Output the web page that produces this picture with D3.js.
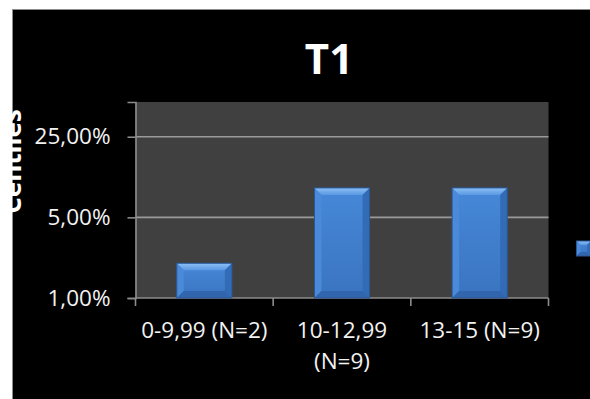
<!DOCTYPE html>
<html>
<head>
<meta charset="utf-8">
<script src="https://cdn.jsdelivr.net/npm/d3@7"></script>
<style>
  html, body { margin: 0; padding: 0; background: #ffffff; }
  svg { display: block; }
  text { font-family: "Open Sans", "Noto Sans", sans-serif; }
</style>
</head>
<body>
<svg id="chart" width="590" height="399"></svg>
<script>
// Chart data
const title = "T1";
const axisTitle = "Centiles";
const categories = ["0-9,99 (N=2)", "10-12,99 (N=9)", "13-15 (N=9)"];
const values = [0.02, 0.09, 0.09];
const tickValues = [0.01, 0.05, 0.25];
const yDomain = [0.01, 0.5];

const W = 590, H = 399;
const plot = { left: 135.5, right: 548.5, top: 102, bottom: 298 };

const svg = d3.select("#chart");
const defs = svg.append("defs");

// Spanish-style number formatting: decimal comma
const locale = d3.formatLocale({ decimal: ",", thousands: ".", grouping: [3], currency: ["", " €"] });
const pct = locale.format(".2%");

// Chart background
svg.append("rect").attr("x", 0).attr("y", 0).attr("width", W).attr("height", H).attr("fill", "#ffffff");
svg.append("rect").attr("x", 12.5).attr("y", 9.5).attr("width", W).attr("height", H)
  .attr("fill", "#000000").attr("stroke", "#8c8c8c").attr("stroke-width", 1);

// Scales
const x = d3.scaleBand().domain(categories).range([plot.left, plot.right])
  .paddingInner(0.6).paddingOuter(0.3);
const y = d3.scaleLog().domain(yDomain).range([plot.bottom, plot.top]);

// Plot area
svg.append("rect").attr("x", plot.left).attr("y", plot.top)
  .attr("width", plot.right - plot.left).attr("height", plot.bottom - plot.top)
  .attr("fill", "#404040");

// Gridlines
svg.append("g").selectAll("line").data(tickValues.filter(d => d > yDomain[0]))
  .join("line")
  .attr("x1", plot.left).attr("x2", plot.right)
  .attr("y1", d => y(d)).attr("y2", d => y(d))
  .attr("stroke", "#9a9a9a").attr("stroke-width", 1.6);

// Y axis
const yAxis = svg.append("g").attr("transform", `translate(${plot.left},0)`)
  .call(d3.axisLeft(y).tickValues(tickValues).tickFormat(pct).tickSize(8).tickPadding(17));
yAxis.select(".domain").attr("stroke", "#8c8c8c").attr("stroke-width", 1.6);
yAxis.selectAll(".tick line").attr("stroke", "#8c8c8c").attr("stroke-width", 1.6);
yAxis.selectAll(".tick text").attr("fill", "#f2f2f2")
  .style("font-family", "'Open Sans', sans-serif").style("font-size", "22.5px");

// X axis line and category boundary ticks
const step = x.step();
const x0 = x.range()[0];
const boundaries = d3.range(categories.length + 1).map(i => x0 + i * step);
svg.append("line").attr("x1", plot.left).attr("x2", plot.right)
  .attr("y1", plot.bottom).attr("y2", plot.bottom)
  .attr("stroke", "#8c8c8c").attr("stroke-width", 1.6);
svg.append("g").selectAll("line").data(boundaries).join("line")
  .attr("x1", d => d).attr("x2", d => d)
  .attr("y1", plot.bottom).attr("y2", plot.bottom + 8)
  .attr("stroke", "#8c8c8c").attr("stroke-width", 1.6);

// Category labels, wrapped to the category width
const labels = svg.append("g").selectAll("text").data(categories).join("text")
  .attr("x", d => x(d) + x.bandwidth() / 2)
  .attr("y", 338)
  .attr("text-anchor", "middle")
  .attr("fill", "#f2f2f2")
  .style("font-size", "22.5px");
labels.each(function (d) {
  const t = d3.select(this);
  const words = d.split(" ");
  let line = [];
  let lines = [];
  const tmp = t.append("tspan");
  words.forEach(w => {
    const test = line.concat([w]).join(" ");
    tmp.text(test);
    if (tmp.node().getComputedTextLength() > step - 2 && line.length) {
      lines.push(line.join(" "));
      line = [w];
    } else {
      line.push(w);
    }
  });
  lines.push(line.join(" "));
  tmp.remove();
  lines.forEach((l, i) => {
    t.append("tspan").attr("x", t.attr("x")).attr("dy", i === 0 ? 0 : 31).text(l);
  });
});

// Bevelled bar gradients
const gFace = defs.append("linearGradient").attr("id", "face").attr("x1", 0).attr("y1", 0).attr("x2", 0).attr("y2", 1);
gFace.append("stop").attr("offset", "0%").attr("stop-color", "#4688d8");
gFace.append("stop").attr("offset", "100%").attr("stop-color", "#3a74c0");
const gTop = defs.append("linearGradient").attr("id", "bevTop").attr("x1", 0).attr("y1", 0).attr("x2", 0).attr("y2", 1);
gTop.append("stop").attr("offset", "0%").attr("stop-color", "#8cc0f6");
gTop.append("stop").attr("offset", "100%").attr("stop-color", "#5a98e2");

function bevelBar(g, bx0, by0, bx1, by1, b) {
  b = Math.min(b, (bx1 - bx0) / 2, (by1 - by0) / 2);
  g.append("rect").attr("x", bx0).attr("y", by0).attr("width", bx1 - bx0).attr("height", by1 - by0)
    .attr("fill", "url(#face)");
  const poly = (pts, fill) => g.append("polygon").attr("points", pts.map(p => p.join(",")).join(" ")).attr("fill", fill);
  poly([[bx0, by0], [bx1, by0], [bx1 - b, by0 + b], [bx0 + b, by0 + b]], "url(#bevTop)");
  poly([[bx0, by0], [bx0 + b, by0 + b], [bx0 + b, by1 - b], [bx0, by1]], "#4a8ad8");
  poly([[bx1, by0], [bx1, by1], [bx1 - b, by1 - b], [bx1 - b, by0 + b]], "#336cb6");
  poly([[bx0, by1], [bx0 + b, by1 - b], [bx1 - b, by1 - b], [bx1, by1]], "#3166ae");
  g.append("rect").attr("x", bx0).attr("y", by0).attr("width", bx1 - bx0).attr("height", by1 - by0)
    .attr("fill", "none").attr("stroke", "#2a5896").attr("stroke-width", 1);
}

// Bars
const bars = svg.append("g");
categories.forEach((c, i) => {
  bevelBar(bars.append("g"), x(c), y(values[i]), x(c) + x.bandwidth(), y(yDomain[0]), 7);
});

// Legend key
bevelBar(svg.append("g"), 576.5, 241, 591, 256, 4);

// Title
svg.append("text").attr("x", 329).attr("y", 73.5).attr("text-anchor", "middle")
  .attr("fill", "#ffffff").style("font-weight", "bold").style("font-size", "42px")
  .text(title);

// Y-axis title
svg.append("text").attr("transform", "translate(21,161.5) rotate(-90)")
  .attr("text-anchor", "middle").attr("fill", "#ffffff")
  .style("font-weight", "bold").style("font-size", "26px")
  .text(axisTitle);

// White margin on the left edge covers the overflowing axis title
svg.append("rect").attr("x", 0).attr("y", 0).attr("width", 12).attr("height", H).attr("fill", "#ffffff");
svg.append("rect").attr("x", 0).attr("y", 0).attr("width", W).attr("height", 9).attr("fill", "#ffffff");
</script>
</body>
</html>
